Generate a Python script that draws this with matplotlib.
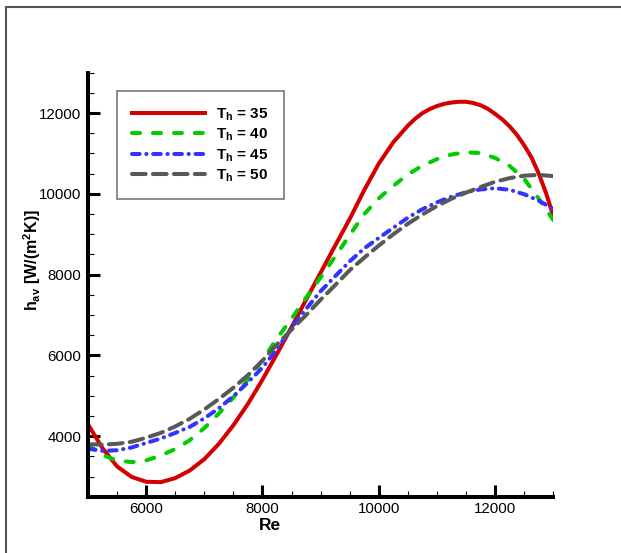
import matplotlib
matplotlib.use("Agg")
import matplotlib.pyplot as plt
from matplotlib.lines import Line2D
from matplotlib.ticker import MultipleLocator

plt.rcParams['font.family'] = ['Liberation Sans', 'DejaVu Sans']
plt.rcParams['mathtext.fontset'] = 'custom'
plt.rcParams['mathtext.rm'] = 'Liberation Sans'
plt.rcParams['mathtext.it'] = 'Liberation Sans'
plt.rcParams['mathtext.bf'] = 'Liberation Sans:bold'

# Reynolds number grid
re = [5000, 5250, 5500, 5750, 6000, 6250, 6500, 6750, 7000, 7250, 7500,
      7750, 8000, 8250, 8500, 8750, 9000, 9250, 9500, 9750, 10000, 10250,
      10500, 10750, 11000, 11250, 11500, 11750, 12000, 12250, 12500, 12750,
      13000]

# T_h = 35 is read more densely around its peak
re_35 = [5000, 5250, 5500, 5750, 6000, 6250, 6500, 6750, 7000, 7250, 7500,
         7750, 8000, 8250, 8500, 8750, 9000, 9250, 9500, 9750, 10000, 10250,
         10500, 10625, 10750, 10875, 11000, 11125, 11250, 11375, 11500,
         11625, 11750, 11875, 12000, 12125, 12250, 12375, 12500, 12625,
         12750, 12875, 13000]
h_35 = [4290, 3700, 3250, 2990, 2870, 2860, 2960, 3150, 3430, 3810, 4270,
        4800, 5400, 6040, 6700, 7380, 8050, 8720, 9380, 10095, 10750, 11280,
        11690, 11860, 12000, 12100, 12175, 12230, 12262, 12280, 12280,
        12250, 12195, 12105, 11980, 11840, 11670, 11460, 11200, 10900,
        10500, 10020, 9450]
h_40 = [3780, 3530, 3400, 3355, 3400, 3520, 3680, 3900, 4200, 4560, 4960,
        5400, 5880, 6420, 6910, 7430, 7930, 8450, 8980, 9500, 9890, 10200,
        10480, 10700, 10860, 10975, 11030, 11010, 10890, 10690, 10370, 9880,
        9350]
h_45 = [3690, 3635, 3650, 3720, 3830, 3940, 4080, 4230, 4440, 4690, 4990,
        5330, 5700, 6150, 6690, 7150, 7590, 7960, 8330, 8650, 8910, 9160,
        9410, 9620, 9790, 9930, 10040, 10110, 10140, 10100, 9990, 9830, 9630]
h_50 = [3800, 3790, 3810, 3860, 3960, 4080, 4240, 4430, 4660, 4920, 5200,
        5510, 5870, 6270, 6640, 7000, 7380, 7740, 8110, 8420, 8720, 9000,
        9260, 9490, 9700, 9880, 10030, 10170, 10300, 10390, 10450, 10470,
        10440]

labels = [r'$\mathbf{T_h}$ = 35', r'$\mathbf{T_h}$ = 40',
          r'$\mathbf{T_h}$ = 45', r'$\mathbf{T_h}$ = 50']

fig = plt.figure(figsize=(6.21, 5.53), dpi=100)
ax = fig.add_axes([0.1417, 0.1018, 0.891 - 0.1417, 0.8685 - 0.1018])

lw = 2.9
ax.plot(re_35, h_35, color='#d40000', lw=lw, label=labels[0])
ax.plot(re, h_40, color='#00cc00', lw=lw, ls=(0, (2.0, 3.2)),
        dash_capstyle='round', label=labels[1])
ax.plot(re, h_45, color='#3333ff', lw=lw, ls=(0, (1.9, 1.65, 0.05, 1.65)),
        dash_capstyle='round', label=labels[2])
ax.plot(re, h_50, color='#595959', lw=lw, ls=(0, (3.4, 1.8)),
        dash_capstyle='round', label=labels[3])

ax.set_xlim(5000, 13000)
ax.set_ylim(2500, 13000)
ax.xaxis.set_major_locator(MultipleLocator(2000))
ax.xaxis.set_minor_locator(MultipleLocator(500))
ax.yaxis.set_major_locator(MultipleLocator(2000))
ax.yaxis.set_minor_locator(MultipleLocator(500))

for s in ['top', 'right']:
    ax.spines[s].set_visible(False)
for s in ['left', 'bottom']:
    ax.spines[s].set_linewidth(2.9)
    ax.spines[s].set_capstyle('projecting')

ax.tick_params(which='major', direction='in', length=8.5, width=2.2,
               labelsize=10.8, pad=5)
ax.tick_params(which='minor', direction='in', length=4.3, width=0.8)
ax.tick_params(axis='x', which='major', pad=4)

ax.set_xlabel('Re', fontsize=12.5, fontweight='bold')
ax.set_ylabel(r'$\mathbf{h_{av}\ [W/(m^2K)]}$', fontsize=11.5)
ax.xaxis.set_label_coords(0.391, -0.05)
ax.yaxis.set_label_coords(-0.097, 0.558)

leg = ax.legend(loc='upper left', bbox_to_anchor=(0.062, 0.957),
                prop={'weight': 'bold', 'size': 11}, handlelength=4.8,
                handletextpad=0.7, labelspacing=0.27, borderpad=1.0,
                borderaxespad=0, fancybox=False, frameon=True)
leg.get_frame().set_edgecolor('#555555')
leg.get_frame().set_linewidth(1.2)

# page border (top and left edges visible)
fig.add_artist(Line2D([6 / 621, 1.0], [1 - 6.5 / 553, 1 - 6.5 / 553],
                      transform=fig.transFigure, color='#555555', lw=1.5))
fig.add_artist(Line2D([6 / 621, 6 / 621], [0.0, 1 - 6.5 / 553],
                      transform=fig.transFigure, color='#555555', lw=1.5))

fig.savefig('out.png', dpi=100)
